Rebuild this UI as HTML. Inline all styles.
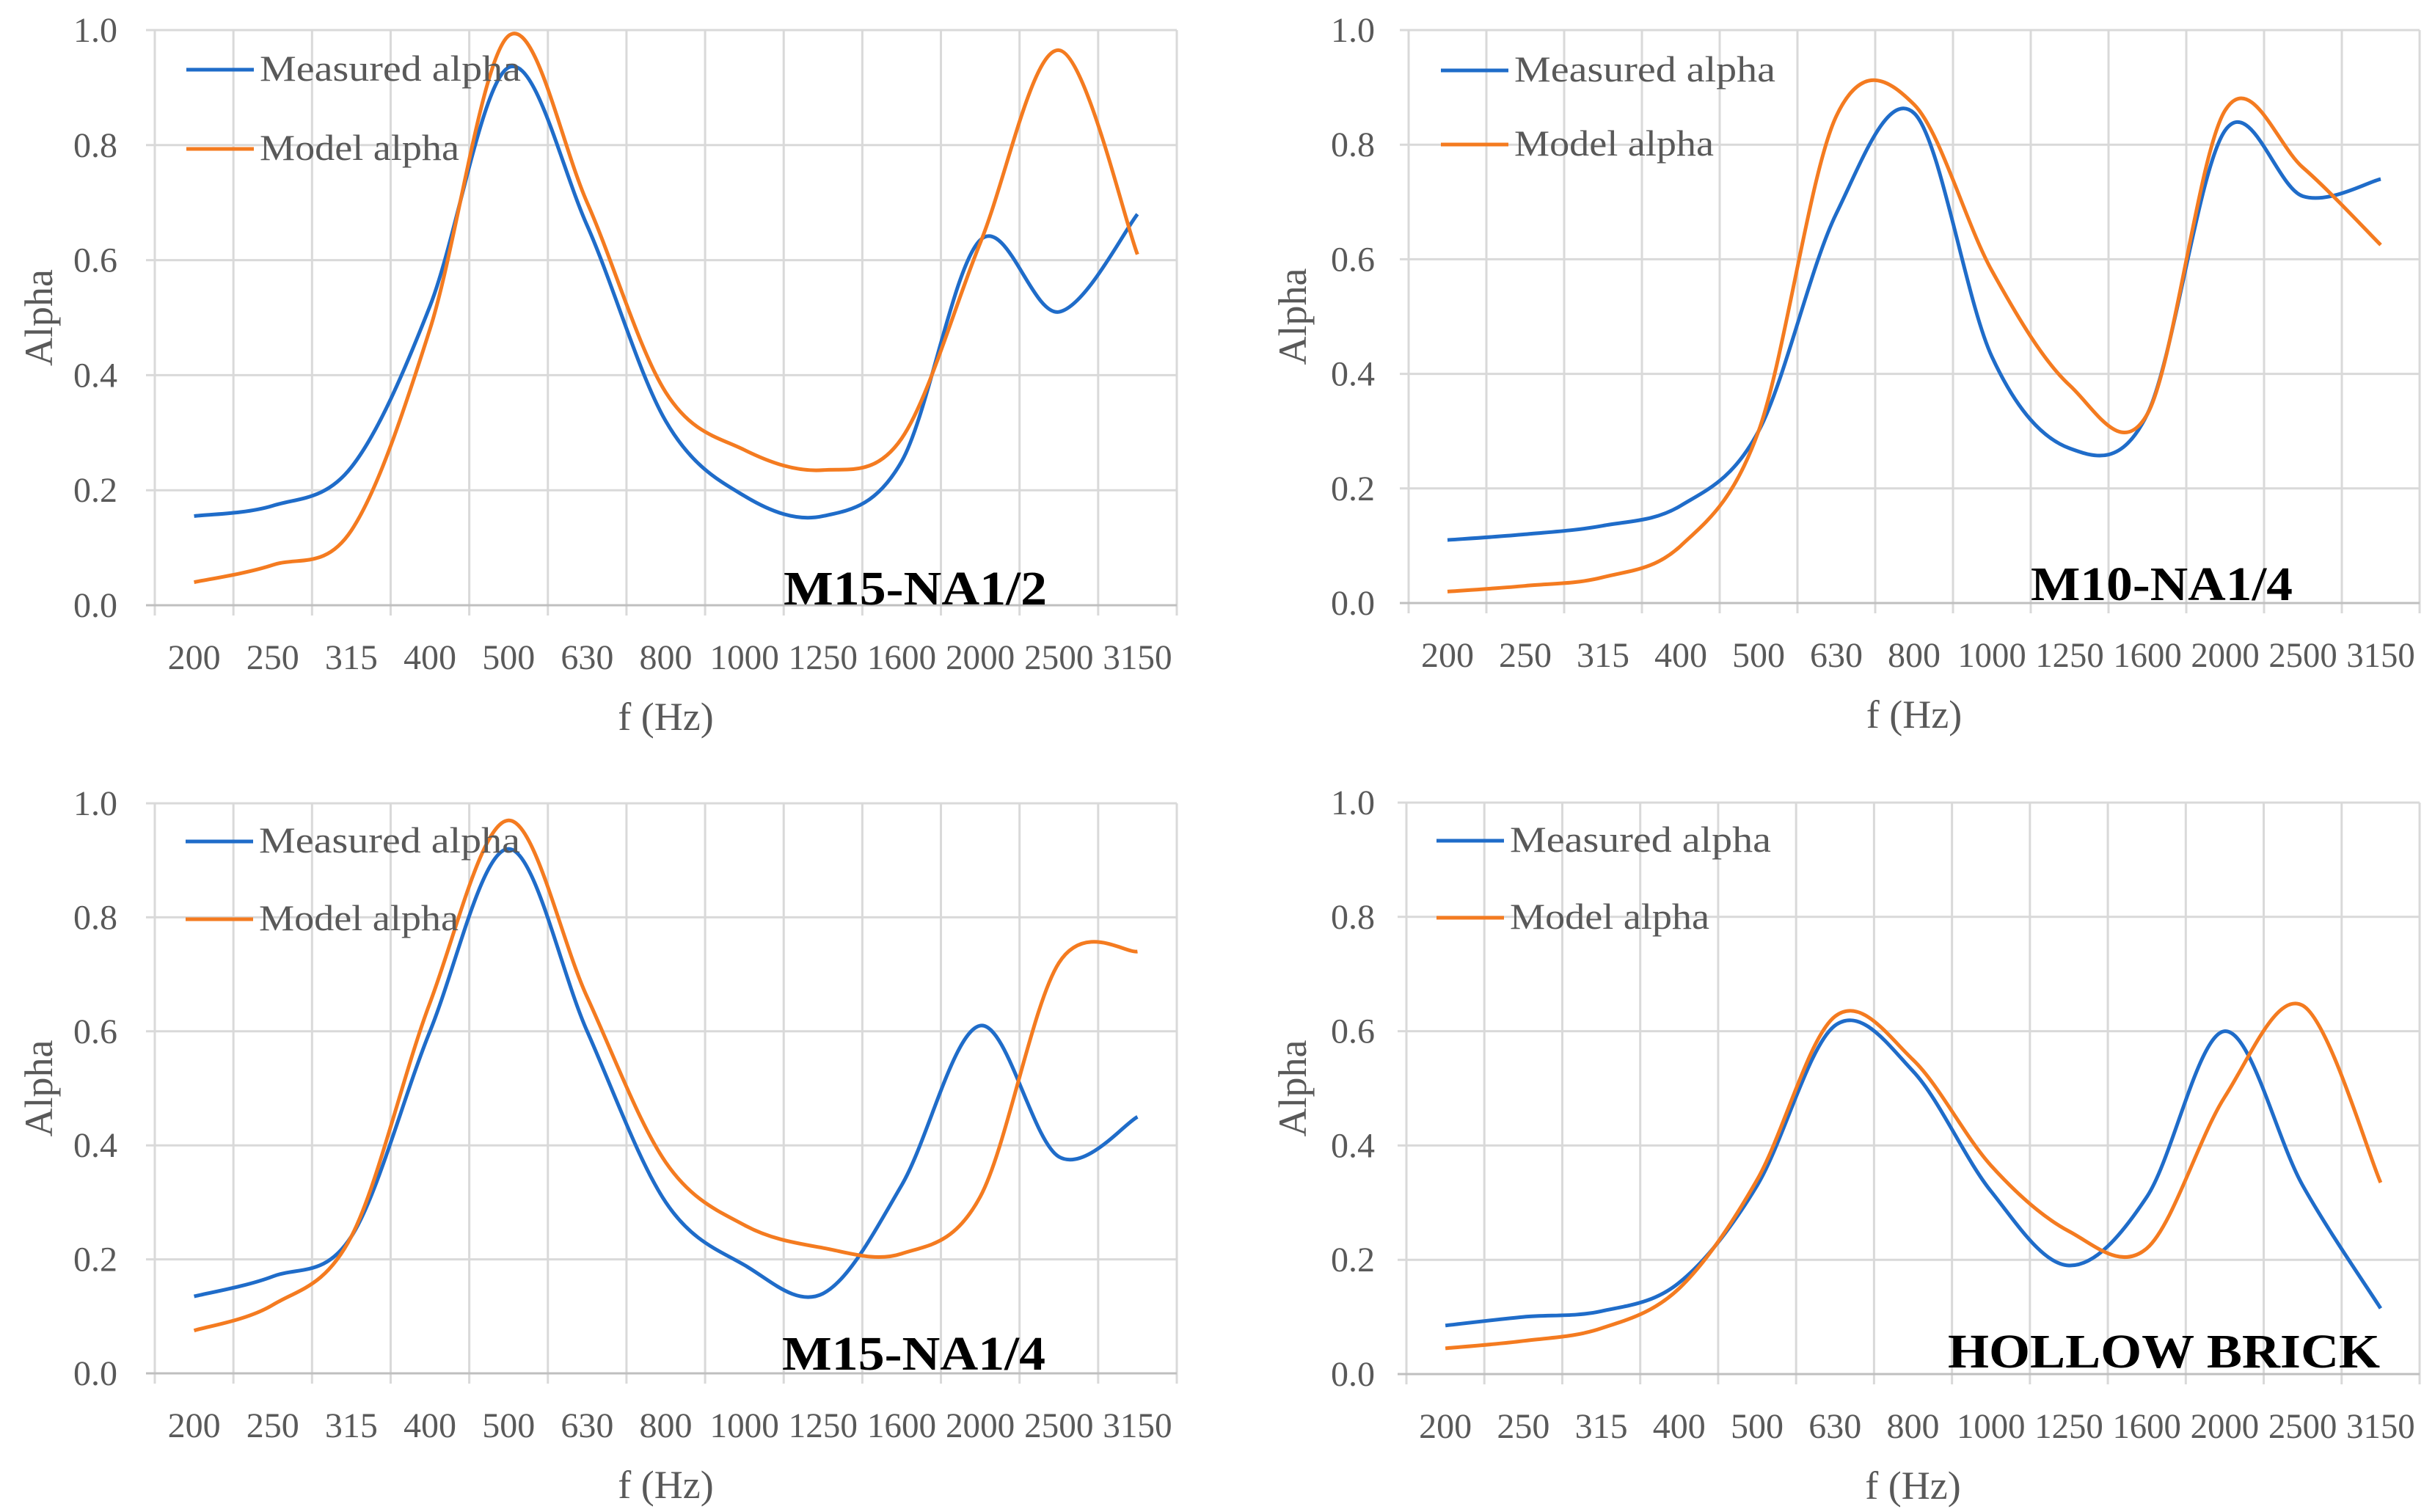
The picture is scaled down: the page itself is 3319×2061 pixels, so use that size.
<!DOCTYPE html>
<html><head><meta charset="utf-8"><style>
html,body{margin:0;padding:0;background:#fff;}
svg{display:block;}
text{font-family:"Liberation Serif",serif;}
</style></head><body>
<svg id="chart" width="3319" height="2061" viewBox="0 0 3319 2061" xmlns="http://www.w3.org/2000/svg"></svg>
<script>
const categories = ["200","250","315","400","500","630","800","1000","1250","1600","2000","2500","3150"];
const yTicks = [0,0.2,0.4,0.6,0.8,1.0];
const yTickLabels = ["0.0","0.2","0.4","0.6","0.8","1.0"];
const panelTitles = ["M15-NA1/2","M10-NA1/4","M15-NA1/4","HOLLOW BRICK"];
const measured1 = [0.155,0.173,0.24,0.52,0.935,0.66,0.32,0.19,0.155,0.25,0.635,0.51,0.68];
const model1    = [0.04,0.07,0.13,0.48,0.99,0.70,0.37,0.27,0.235,0.29,0.63,0.965,0.61];
const measured2 = [0.11,0.12,0.135,0.17,0.30,0.68,0.855,0.43,0.27,0.33,0.825,0.71,0.74];
const model2    = [0.02,0.03,0.045,0.10,0.30,0.85,0.87,0.58,0.38,0.33,0.86,0.76,0.625];
const measured3 = [0.135,0.17,0.24,0.60,0.92,0.60,0.30,0.19,0.14,0.33,0.61,0.38,0.45];
const model3    = [0.075,0.12,0.24,0.65,0.97,0.66,0.37,0.26,0.22,0.21,0.31,0.72,0.74];
const measured4 = [0.085,0.10,0.11,0.16,0.33,0.61,0.53,0.32,0.19,0.31,0.60,0.33,0.115];
const model4    = [0.045,0.058,0.08,0.15,0.34,0.626,0.55,0.365,0.25,0.22,0.485,0.645,0.335];

const NS="http://www.w3.org/2000/svg";
const svg=document.getElementById('chart');
function el(tag,attrs,parent){const e=document.createElementNS(NS,tag);for(const k in attrs)e.setAttribute(k,attrs[k]);(parent||svg).appendChild(e);return e;}

const panels=[
 {x0:211,x1:1604,yT:41,yB:825,meas:measured1,mod:model1,tx:1068,tw:359,tb:824,lx:254,ly1:95,ly2:203,ylx:160,atx:53},
 {x0:1920,x1:3298,yT:41,yB:822,meas:measured2,mod:model2,tx:2768,tw:357,tb:818,lx:1964,ly1:96,ly2:197,ylx:1874,atx:1762},
 {x0:211,x1:1604,yT:1095,yB:1872,meas:measured3,mod:model3,tx:1066,tw:359,tb:1867,lx:253,ly1:1147,ly2:1253,ylx:160,atx:53},
 {x0:1917,x1:3298,yT:1094,yB:1873,meas:measured4,mod:model4,tx:2655,tw:589,tb:1864,lx:1958,ly1:1146,ly2:1251,ylx:1874,atx:1762}
];

function smoothPath(pts){
  let d=`M${pts[0][0]},${pts[0][1]}`;
  for(let i=0;i<pts.length-1;i++){
    const p0=pts[Math.max(0,i-1)],p1=pts[i],p2=pts[i+1],p3=pts[Math.min(pts.length-1,i+2)];
    const t=1/6;
    const c1=[p1[0]+(p2[0]-p0[0])*t,p1[1]+(p2[1]-p0[1])*t];
    const c2=[p2[0]-(p3[0]-p1[0])*t,p2[1]-(p3[1]-p1[1])*t];
    d+=` C${c1[0]},${c1[1]} ${c2[0]},${c2[1]} ${p2[0]},${p2[1]}`;
  }
  return d;
}

panels.forEach((p,pi)=>{
  const g=el('g',{});
  
  
  const n=categories.length, cw=(p.x1-p.x0)/n;
  const xs=i=>p.x0+cw*(i+0.5);
  const ys=v=>p.yB-(p.yB-p.yT)*v;
  for(let i=0;i<=n;i++){
    const x=p.x0+cw*i;
    const l=el('line',{x1:x,y1:p.yT,x2:x,y2:p.yB+14,stroke:'#d9d9d9','stroke-width':3},g);
    
    
  }
  yTicks.forEach((v,i)=>{
    const y=ys(v);
    const l=el('line',{x1:p.x0-12,y1:y,x2:p.x1,y2:y,stroke:i===0?'#bfbfbf':'#d9d9d9','stroke-width':3},g);
    
    
    const t=el('text',{x:p.ylx,y:y+16,'text-anchor':'end','font-size':48,fill:'#595959'},g);
    t.textContent=yTickLabels[i];
    
    
  });
  categories.forEach((c,i)=>{
    const t=el('text',{x:xs(i),y:p.yB+87,'text-anchor':'middle','font-size':48,fill:'#595959',textLength:cw*0.88,lengthAdjust:'spacingAndGlyphs'},g);
    if(c.length<4) t.removeAttribute('textLength');
    t.textContent=c;
    
    
  });
  const xt=el('text',{x:(p.x0+p.x1)/2,y:p.yB+170,'text-anchor':'middle','font-size':54,fill:'#595959'},g);
  xt.textContent='f (Hz)';
  
  
  const cy=(p.yT+p.yB)/2;
  const yt=el('text',{x:p.atx+18,y:cy,'text-anchor':'middle','font-size':54,fill:'#595959',transform:`rotate(-90 ${p.atx+18} ${cy})`},g);
  yt.textContent='Alpha';
  
  
  const mp=el('path',{d:smoothPath(p.meas.map((v,i)=>[xs(i),ys(v)])),fill:'none',stroke:'#1f6cc9','stroke-width':5,'stroke-linejoin':'round'},g);
  
  
  const op=el('path',{d:smoothPath(p.mod.map((v,i)=>[xs(i),ys(v)])),fill:'none',stroke:'#f47b20','stroke-width':5,'stroke-linejoin':'round'},g);
  
  
  [[p.ly1,'#1f6cc9','Measured alpha',356],[p.ly2,'#f47b20','Model alpha',272]].forEach(([y,col,lab,w])=>{
    const lg=el('g',{},g);
    
    
    el('line',{x1:p.lx,y1:y,x2:p.lx+92,y2:y,stroke:col,'stroke-width':5},lg);
    const t=el('text',{x:p.lx+100,y:y+15,'font-size':50,fill:'#595959',textLength:w,lengthAdjust:'spacingAndGlyphs'},lg);
    t.textContent=lab;
  });
  const tt=el('text',{x:p.tx,y:p.tb,'font-size':66,'font-weight':'bold',fill:'#000',textLength:p.tw,lengthAdjust:'spacingAndGlyphs'},g);
  tt.textContent=panelTitles[pi];
  
  
});
</script>
</body></html>
